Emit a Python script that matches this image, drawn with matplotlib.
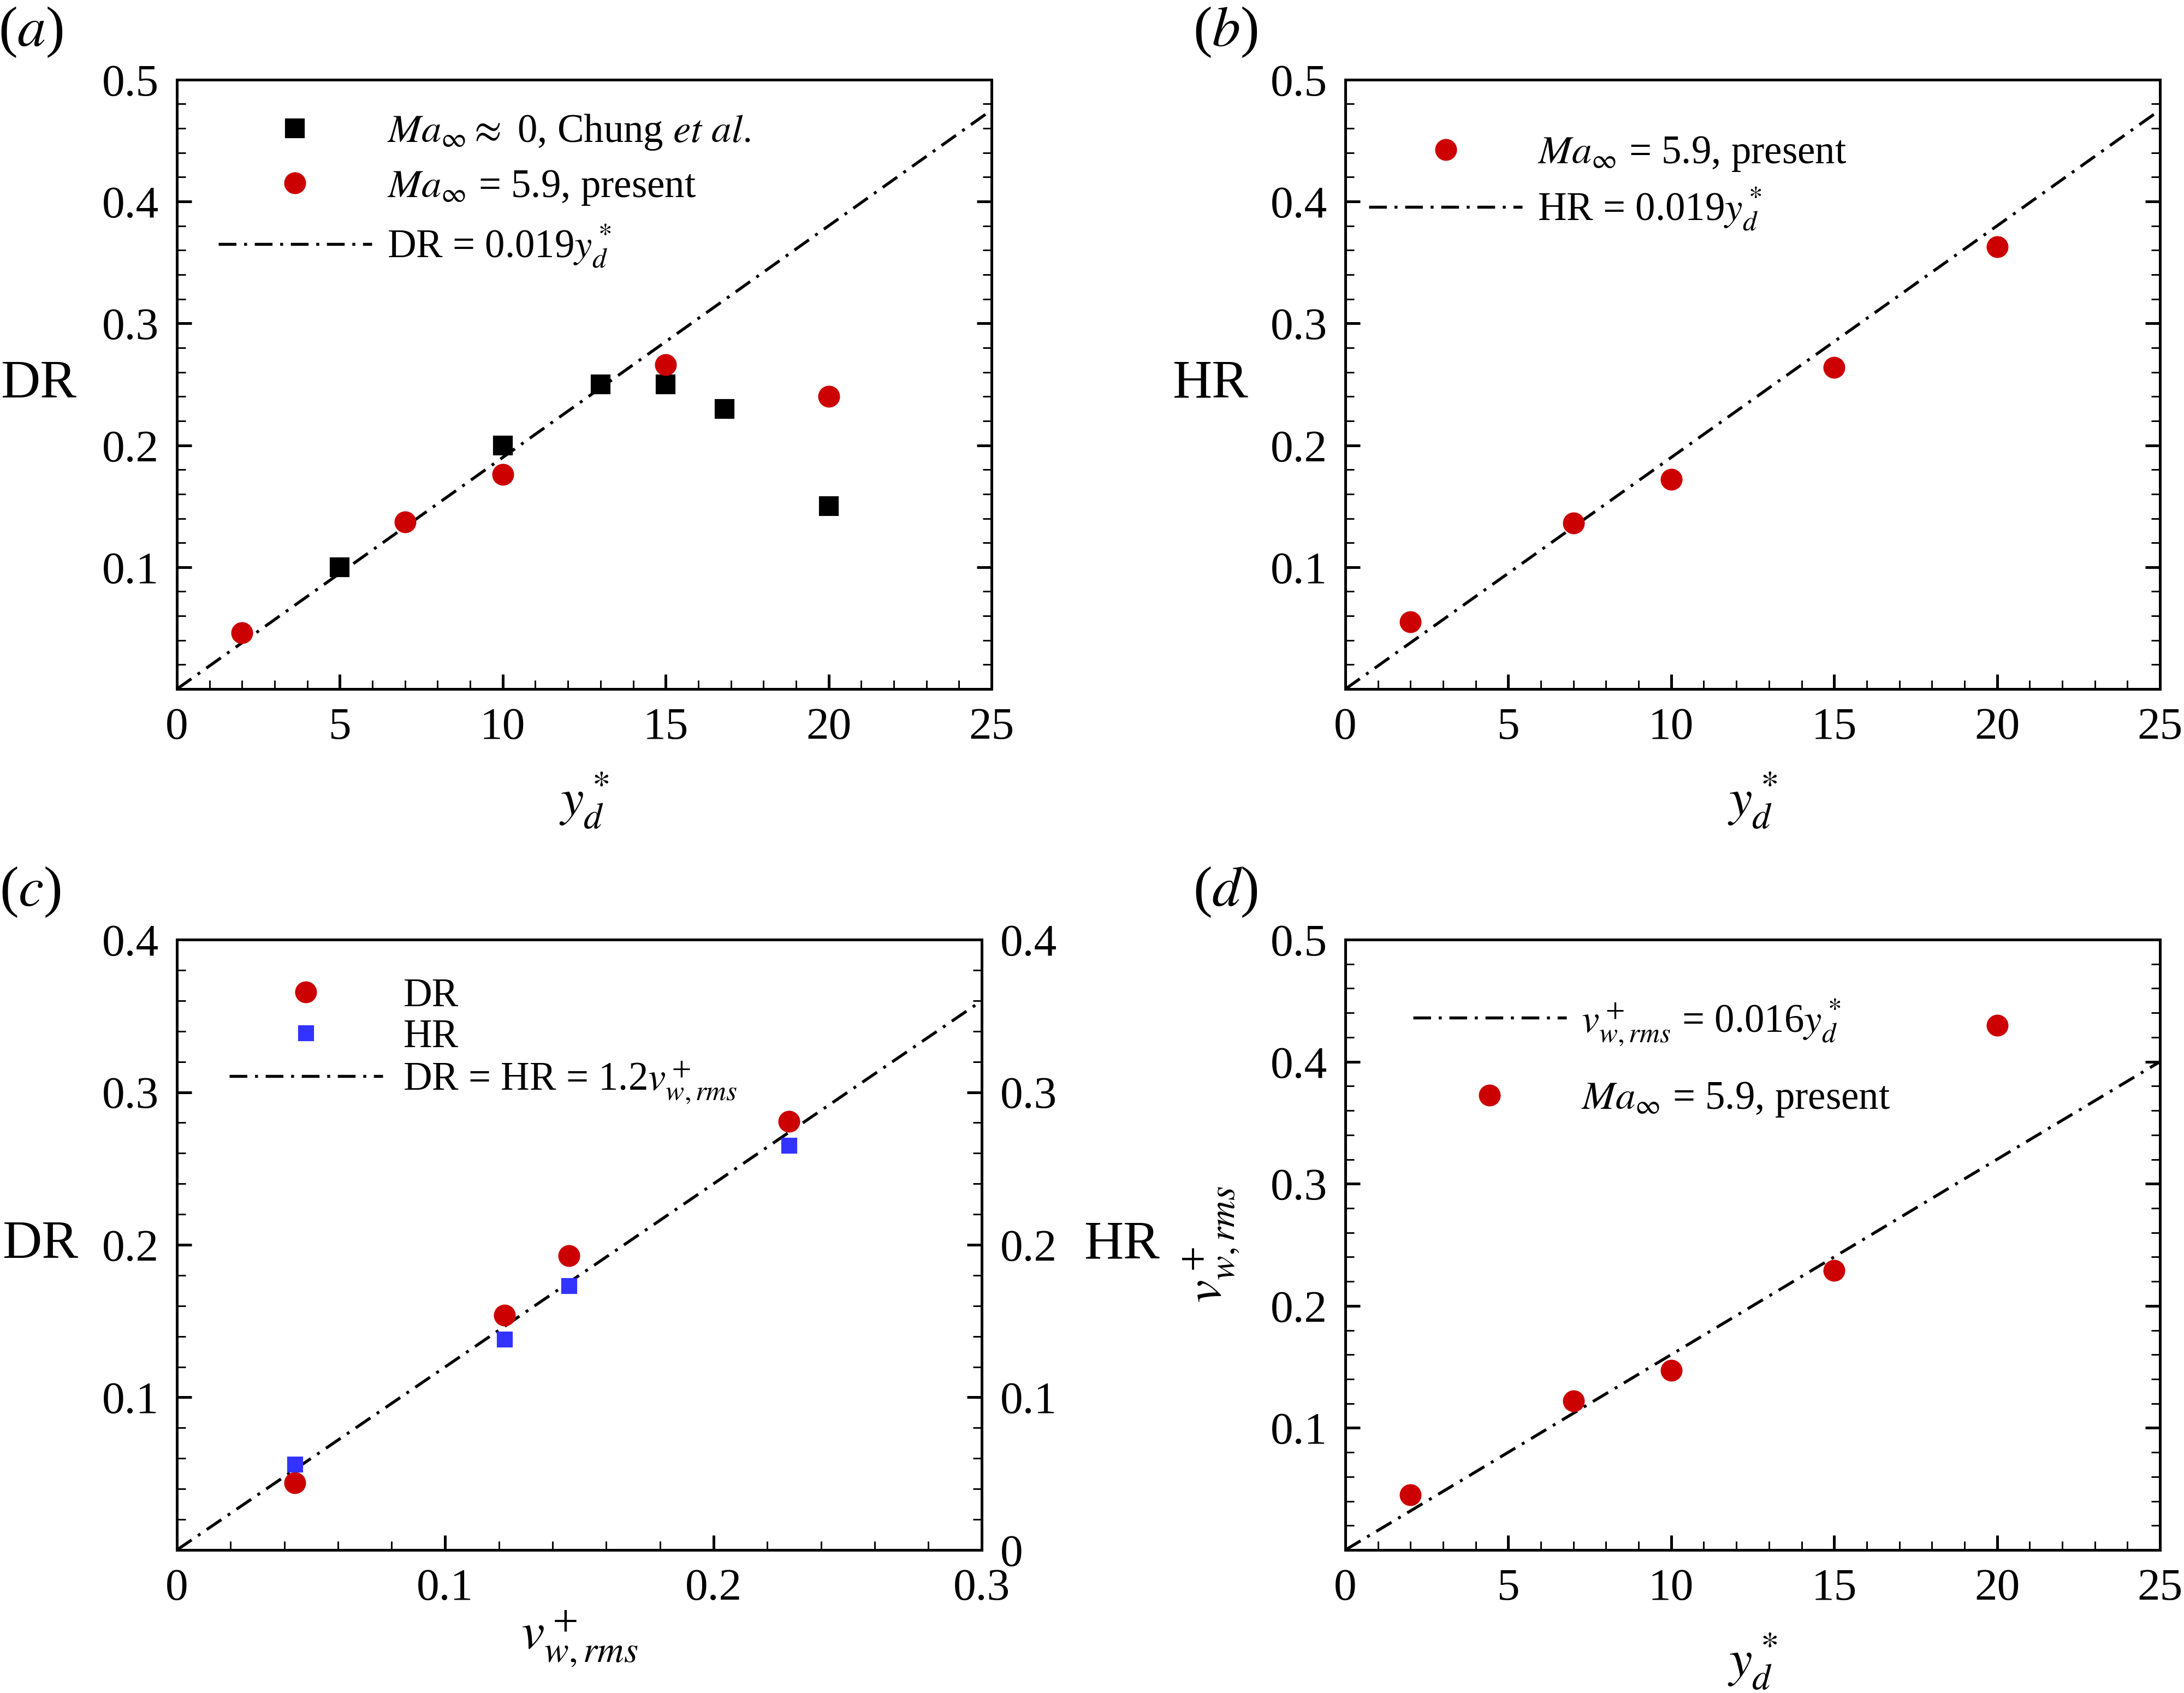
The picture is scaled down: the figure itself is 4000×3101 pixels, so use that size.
import numpy as np
import matplotlib
matplotlib.use("Agg")
import matplotlib.pyplot as plt
from matplotlib.ticker import MultipleLocator

plt.rcParams['font.family'] = ['Liberation Serif', 'DejaVu Serif']
plt.rcParams['mathtext.fontset'] = 'stix'
plt.rcParams['axes.linewidth'] = 1.2

RED = '#CC0000'
BLUE = '#3333FF'
DASHDOT = (0, (6.0, 2.6, 1.0, 2.6))

# panel (a): drag reduction vs y_d*
chung_y = [5, 10, 13, 15, 16.8, 20]
chung_dr = [0.10, 0.20, 0.25, 0.25, 0.23, 0.15]
pres_y = [2, 7, 10, 15, 20]
pres_dr = [0.046, 0.137, 0.176, 0.266, 0.240]
# panel (b): heat-transfer reduction
pres_hr = [0.055, 0.136, 0.172, 0.264, 0.363]
# panel (c): DR, HR vs v_w,rms
vw = [0.044, 0.122, 0.146, 0.228]
c_dr = [0.044, 0.154, 0.193, 0.281]
c_hr = [0.056, 0.138, 0.173, 0.265]
# panel (d): v_w,rms vs y_d*
pres_vw = [0.045, 0.122, 0.147, 0.229, 0.430]

slope_a = 0.019
slope_c = 1.2
slope_d = 0.016

ytick_05 = [0.1, 0.2, 0.3, 0.4, 0.5]
ylab_05 = ['0.1', '0.2', '0.3', '0.4', '0.5']
xtick_25 = [0, 5, 10, 15, 20, 25]
xlab_25 = ['0', '5', '10', '15', '20', '25']

fig = plt.figure(figsize=(4000 / 300, 3101 / 300), dpi=300)
ax_a = fig.add_axes([0.081, 0.593, 0.373, 0.360])
ax_b = fig.add_axes([0.616, 0.593, 0.373, 0.360])
ax_c = fig.add_axes([0.081, 0.0845, 0.3686, 0.3605])
ax_d = fig.add_axes([0.616, 0.0845, 0.373, 0.3605])

TICKFS = 20
LEGFS = 17.5
LABFS = 24
MATHFS = 23
LW = 1.3


def style(ax, right=True):
    ax.tick_params(which='both', direction='in', top=False, right=right,
                   labelsize=TICKFS)
    ax.tick_params(which='major', length=6.5, width=1.2)
    ax.tick_params(which='minor', length=3.8, width=0.7)
    ax.tick_params(axis='x', pad=8)
    ax.tick_params(axis='y', pad=8)


def setup_yd(ax):
    ax.set_xlim(0, 25)
    ax.set_ylim(0, 0.5)
    ax.set_xticks(xtick_25, xlab_25)
    ax.set_yticks(ytick_05, ylab_05)
    ax.xaxis.set_minor_locator(MultipleLocator(1))
    ax.yaxis.set_minor_locator(MultipleLocator(0.02))
    style(ax)
    ax.set_xlabel(r'$y_d^*$', fontsize=MATHFS, va='center')
    ax.xaxis.set_label_coords(0.5, -0.183)


leg_kw = dict(frameon=False, fontsize=LEGFS, numpoints=1, borderpad=0,
              borderaxespad=0, handlelength=3.85, handletextpad=0.38)

# (a)
setup_yd(ax_a)
fx = np.array([0, 25])
ax_a.plot(fx, slope_a * fx, color='k', lw=LW, ls=DASHDOT, zorder=2,
          label=r'DR = 0.019$y_d^*$')
ax_a.plot(chung_y, chung_dr, 's', color='k', ms=7.7, ls='none', zorder=3,
          label=r'$Ma_\infty \approx$ 0, Chung $\it{et\ al.}$')
ax_a.plot(pres_y, pres_dr, 'o', color=RED, ms=8.6, ls='none', zorder=3,
          label=r'$Ma_\infty$ = 5.9, present')
h, l = ax_a.get_legend_handles_labels()
ax_a.legend([h[1], h[2], h[0]], [l[1], l[2], l[0]], loc='upper left',
            bbox_to_anchor=(0.051, 0.946), labelspacing=0.42, **leg_kw)
ax_a.set_ylabel('DR', rotation=0, fontsize=LABFS, va='center', ha='center')
ax_a.yaxis.set_label_coords(-0.17, 0.5)

# (b)
setup_yd(ax_b)
ax_b.plot(fx, slope_a * fx, color='k', lw=LW, ls=DASHDOT, zorder=2,
          label=r'HR = 0.019$y_d^*$')
ax_b.plot(pres_y, pres_hr, 'o', color=RED, ms=8.6, ls='none', zorder=3,
          label=r'$Ma_\infty$ = 5.9, present')
h, l = ax_b.get_legend_handles_labels()
ax_b.legend([h[1], h[0]], [l[1], l[0]], loc='upper left',
            bbox_to_anchor=(0.029, 0.909), labelspacing=0.33, **leg_kw)
ax_b.set_ylabel('HR', rotation=0, fontsize=LABFS, va='center', ha='center')
ax_b.yaxis.set_label_coords(-0.166, 0.5)

# (c)
ax_c.set_xlim(0, 0.3)
ax_c.set_ylim(0, 0.4)
ax_c.set_xticks([0, 0.1, 0.2, 0.3], ['0', '0.1', '0.2', '0.3'])
ax_c.set_yticks([0.1, 0.2, 0.3, 0.4], ['0.1', '0.2', '0.3', '0.4'])
ax_c.xaxis.set_minor_locator(MultipleLocator(0.02))
ax_c.yaxis.set_minor_locator(MultipleLocator(0.02))
style(ax_c, right=False)
cx = np.array([0, 0.3])
ax_c.plot(cx, slope_c * cx, color='k', lw=LW, ls=DASHDOT, zorder=2,
          label=r'DR = HR = 1.2$v^+_{w,rms}$')
ax_c.plot(vw, c_dr, 'o', color=RED, ms=8.6, ls='none', zorder=3, label='DR')
ax_c.plot(vw, c_hr, 's', color=BLUE, ms=6.0, ls='none', zorder=3, label='HR')
h, l = ax_c.get_legend_handles_labels()
ax_c.legend([h[1], h[2], h[0]], [l[1], l[2], l[0]], loc='upper left',
            bbox_to_anchor=(0.065, 0.937), labelspacing=0.1,
            **{**leg_kw, 'handletextpad': 0.52})
ax_c.set_xlabel(r'$v^+_{w,rms}$', fontsize=MATHFS, va='center')
ax_c.xaxis.set_label_coords(0.5, -0.146)
ax_c.set_ylabel('DR', rotation=0, fontsize=LABFS, va='center', ha='center')
ax_c.yaxis.set_label_coords(-0.17, 0.5)
ax_c2 = ax_c.twinx()
ax_c2.set_ylim(0, 0.4)
ax_c2.set_yticks([0, 0.1, 0.2, 0.3, 0.4], ['0', '0.1', '0.2', '0.3', '0.4'])
ax_c2.yaxis.set_minor_locator(MultipleLocator(0.02))
style(ax_c2, right=True)
ax_c2.tick_params(left=False, which='both')
ax_c2.set_ylabel('HR', rotation=0, fontsize=LABFS, va='center', ha='center')
ax_c2.yaxis.set_label_coords(1.174, 0.5)

# (d)
setup_yd(ax_d)
ax_d.plot(fx, slope_d * fx, color='k', lw=LW, ls=DASHDOT, zorder=2,
          label=r'$v^+_{w,rms}$ = 0.016$y_d^*$')
ax_d.plot(pres_y, pres_vw, 'o', color=RED, ms=8.6, ls='none', zorder=3,
          label=r'$Ma_\infty$ = 5.9, present')
ax_d.legend(loc='upper left', bbox_to_anchor=(0.083, 0.905),
            labelspacing=0.83, **leg_kw)
ax_d.set_ylabel(r'$v^+_{w,rms}$', fontsize=MATHFS, va='center', ha='center')
ax_d.yaxis.set_label_coords(-0.164, 0.5)

# panel letters
for x, y, s in [(0.014, 0.981, 'a'), (0.561, 0.981, 'b'),
                (0.014, 0.473, 'c'), (0.561, 0.473, 'd')]:
    fig.text(x, y, '(' + r'$\it{' + s + '}$' + ')', fontsize=25,
             ha='center', va='center')

fig.savefig('out.png', dpi=300, facecolor='white')
